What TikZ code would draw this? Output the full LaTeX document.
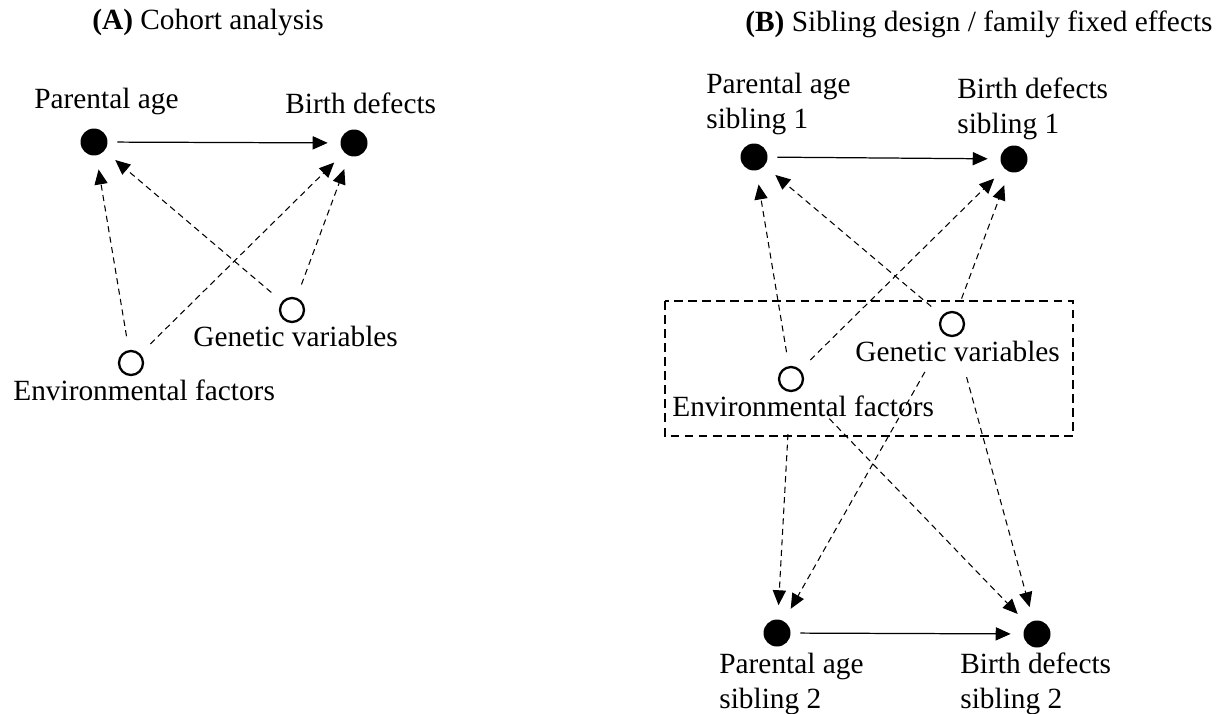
\documentclass[tikz,border=0pt]{standalone}
\usepackage{fontspec}
\setmainfont{Liberation Serif}
\usetikzlibrary{arrows.meta}
\begin{document}
\begin{tikzpicture}[x=0.02cm, y=-0.02cm,
    every node/.style={font=\fontsize{16.7}{20}\selectfont},
    obs/.style={circle, fill=black, inner sep=0pt, minimum size=0.54cm},
    unobs/.style={circle, draw=black, line width=1.3pt, inner sep=0pt, minimum size=0.48cm},
    txt/.style={anchor=base west, inner sep=0pt},
    txttwo/.style={anchor=north west, inner sep=0pt, align=left},
    cause/.style={-{Triangle[length=8.5pt,width=7.5pt]}, line width=0.7pt, shorten <=0.19cm, shorten >=0.25cm},
    confound/.style={-{Triangle[length=8.5pt,width=7.5pt]}, line width=0.6pt, dash pattern=on 3.5pt off 2.5pt, shorten <=0.28cm, shorten >=0.28cm},
    famwall/.style={line width=1.3pt, dash pattern=on 5pt off 3pt}]
    \useasboundingbox (0,0) rectangle (1226,713);

    % (A) Cohort analysis
    \node at (92,30) (titleA) [txt] {\textbf{(A)} Cohort analysis};
    \node at (94,142) (pa) [obs] {};
    \node at (354,143) (bd) [obs] {};
    \node at (292,310) (gen) [unobs] {};
    \node at (131,363) (env) [unobs] {};
    \node at (34,109) (palbl) [txt] {Parental age};
    \node at (285,113) (bdlbl) [txt] {Birth defects};
    \node at (193,346) (genlbl) [txt] {Genetic variables};
    \node at (13,400) (envlbl) [txt] {Environmental factors};
    \draw[cause] (pa) -- (bd);
    \draw[confound] (env) -- (pa);
    \draw[confound] (env) -- (bd);
    \draw[confound] (gen) -- (pa);
    \draw[confound] (gen) -- (bd);

    % (B) Sibling design / family fixed effects
    \node at (745,32) (titleB) [txt] {\textbf{(B)} Sibling design / family fixed effects};
    \node at (754,157) (paone) [obs] {};
    \node at (1014,159) (bdone) [obs] {};
    \node at (777,633) (patwo) [obs] {};
    \node at (1037,634) (bdtwo) [obs] {};
    \node at (952,324) (famgen) [unobs] {};
    \node at (791,379) (famenv) [unobs] {};
    \node at (706,73) (paonelbl) [txttwo] {Parental age\\sibling 1};
    \node at (957,77) (bdonelbl) [txttwo] {Birth defects\\sibling 1};
    \node at (719,653) (patwolbl) [txttwo] {Parental age\\sibling 2};
    \node at (960,652) (bdtwolbl) [txttwo] {Birth defects\\sibling 2};
    \node at (855,361) (famgenlbl) [txt] {Genetic variables};
    \node at (672,416) (famenvlbl) [txt] {Environmental factors};
    \draw[famwall] (665,301) rectangle (1073,436);
    \draw[cause] (paone) -- (bdone);
    \draw[cause] (patwo) -- (bdtwo);
    \draw[confound] (famenv) -- (paone);
    \draw[confound] (famenv) -- (bdone);
    \draw[confound] (famgen) -- (paone);
    \draw[confound] (famgen) -- (bdone);
    \draw[confound, shorten <=0.84cm] (famenv) -- (patwo);
    \draw[confound, shorten <=0.84cm] (famenv) -- (bdtwo);
    \draw[confound, shorten <=0.84cm] (famgen) -- (patwo);
    \draw[confound, shorten <=0.84cm] (famgen) -- (bdtwo);
\end{tikzpicture}
\end{document}
